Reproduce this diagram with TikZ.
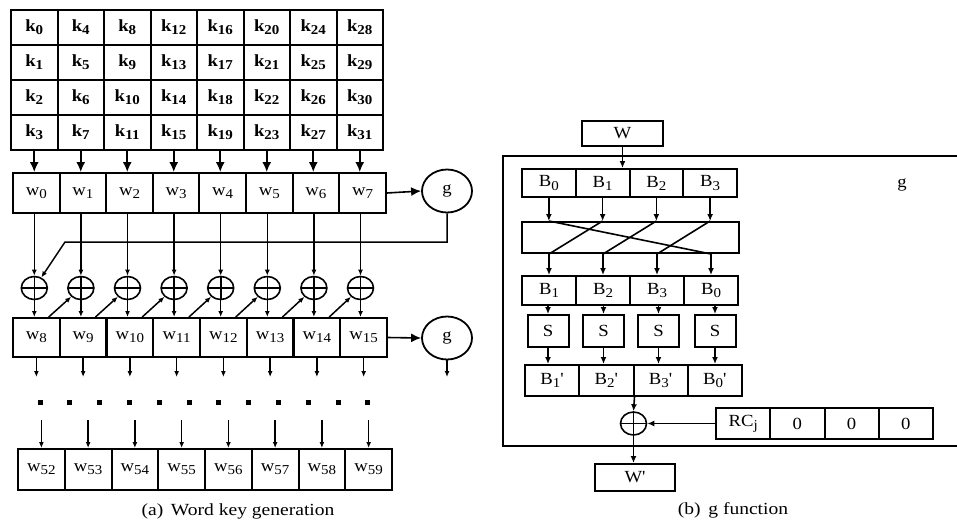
\documentclass[tikz,border=0pt]{standalone}
\usepackage{fontspec}
\setmainfont{Liberation Serif}
\newfontfamily\capfont{Liberation Serif}[FakeStretch=1.15]
\newfontfamily\lblfont{Liberation Serif}[FakeStretch=1.1]
\usetikzlibrary{arrows.meta,shapes.geometric,calc}
\newcommand{\sbs}[1]{\raisebox{-0.4ex}{\scalebox{0.8}{#1}}}
\begin{document}
\begin{tikzpicture}[x=1pt,y=-1pt,
  lbl/.style={font=\lblfont\fontsize{17}{19}\selectfont},
  box/.style={draw,line width=2pt,inner sep=0pt,anchor=center,lbl},
  kcell/.style={box,minimum width=46.5pt,minimum height=35pt},
  wcell/.style={box,minimum width=46.7pt,minimum height=40pt},
  gcirc/.style={draw,ellipse,line width=1.8pt,minimum width=50pt,minimum height=43pt,inner sep=0pt,lbl},
  xor/.style={draw,ellipse,line width=1.6pt,minimum width=26pt,minimum height=23pt,inner sep=0pt,
    path picture={\draw[line width=1.6pt] (path picture bounding box.north) -- (path picture bounding box.south)
      (path picture bounding box.west) -- (path picture bounding box.east);}},
  bigarrow/.style={line width=1.6pt,-{Latex[length=10pt,width=9pt]}},
  smallarrow/.style={line width=1.5pt,-{Latex[length=6pt,width=5pt]}},
  midarrow/.style={line width=1.6pt,-{Latex[length=7pt,width=6pt]}},
  plainline/.style={line width=1.6pt},
  captext/.style={font=\capfont\fontsize{17}{19}\selectfont}
]
\useasboundingbox (0,0) rectangle (957,523);

% ---------- key grid ----------
\foreach \c in {0,...,7}{
  \foreach \r in {0,...,3}{
    \pgfmathtruncatemacro\idx{4*\c+\r}
    \node[kcell] (k\idx) at ({11+46.5*\c+23.25},{10+35*\r+17.5}) {\textbf{k\sbs{\idx}}};
  }
}
% ---------- w0..w7 ----------
\foreach \c in {0,...,7}{
  \node[wcell] (w\c) at ({13+46.6*\c+23.3},193) {w\sbs{\c}};
}
\foreach \c in {0,...,7}{
  \pgfmathtruncatemacro\kb{4*\c+3}
  \draw[bigarrow] (k\kb.south) -- (k\kb.south |- w\c.north);
}
\node[gcirc] (g1) at (447,191) {g};
\draw[bigarrow] (w7.east) -- (g1.west);

% ---------- w8..w15 ----------
\foreach \c in {0,...,7}{
  \pgfmathtruncatemacro\n{\c+8}
  \node[wcell,minimum height=39pt] (w\n) at ({13+46.75*\c+23.375},337.5) {w\sbs{\n}};
}
% ---------- xors ----------
\foreach \c in {0,...,7}{
  \pgfmathtruncatemacro\n{\c+8}
  \node[xor] (x\c) at ({13+46.6*\c+23.3-2},288) {};
  \draw[smallarrow] (x\c.north |- w\c.south) -- (x\c.north);
  \draw[smallarrow] (x\c.south) -- (x\c.south |- w\n.north);
}
\foreach \c in {0,...,6}{
  \pgfmathtruncatemacro\n{\c+8}
  \pgfmathtruncatemacro\m{\c+1}
  \draw[smallarrow] ($(w\n.north east)+(-12,0)$) -- (x\m);
}
\coordinate (gb) at (65,242);
\draw[smallarrow] (g1.south) |- (gb) -- (x0);

\node[gcirc] (g2) at (447,338) {g};
\draw[bigarrow] (w15.east) -- (g2.west);
\coordinate (g2e) at (447,377);
\draw[smallarrow] (g2.south) -- (g2e);

\foreach \c in {0,...,7}{
  \pgfmathtruncatemacro\n{\c+8}
  \coordinate (e\n) at ($(w\n.south)+(0,19)$);
  \draw[smallarrow] (w\n.south) -- (e\n);
}
% dots
\foreach \i in {0,...,11}{
  \fill ({40+29.8*\i-2.5},399.5) rectangle +(5,5);
}
% ---------- w52..w59 ----------
\foreach \c in {0,...,7}{
  \pgfmathtruncatemacro\n{\c+52}
  \node[wcell,minimum width=46.75pt,minimum height=41pt] (w\n) at ({18+46.75*\c+23.375},469.5) {w\sbs{\n}};
  \coordinate (f\n) at ($(w\n.north)+(0,-28)$);
  \draw[smallarrow] (f\n) -- (w\n.north);
}
\node[captext] (capa) at (238,511) {(a)\, Word key generation};

% ================= g function =================
\node[box,minimum width=81pt,minimum height=25pt] (W) at (622.5,133.5) {W};
\draw[line width=2pt] (962,156) -- (503,156) -- (503,446) -- (962,446);
\node[lbl] (glab) at (902,185) {g};

\foreach \i/\t in {0/0,1/1,2/2,3/3}{
  \node[box,minimum width=53.75pt,minimum height=28pt] (b\i) at ({522+53.75*(\i+0.5)},183) {B\sbs{\t}};
}
\draw[midarrow] (W.south) -- (W.south |- b1.north);
\node[box,minimum width=217pt,minimum height=31pt] (P) at (630.5,237.5) {};
\foreach \i in {0,...,3}{
  \draw[midarrow] (b\i.south) -- (b\i.south |- P.north);
}
\foreach \i/\t in {0/1,1/2,2/3,3/0}{
  \node[box,minimum width=54pt,minimum height=29pt] (c\i) at ({522+54*(\i+0.5)},290.5) {B\sbs{\t}};
}
\foreach \i in {0,...,3}{
  \draw[midarrow] (c\i.north |- P.south) -- (c\i.north);
}
\draw[plainline] (b0.south |- P.north) -- (c3.north |- P.south);
\draw[plainline] (b1.south |- P.north) -- (c0.north |- P.south);
\draw[plainline] (b2.south |- P.north) -- (c1.north |- P.south);
\draw[plainline] (b3.south |- P.north) -- (c2.north |- P.south);

\foreach \i/\x in {0/548,1/603.5,2/658.5,3/715}{
  \node[box,minimum width=41pt,minimum height=32pt] (s\i) at (\x,331) {S};
  \draw[midarrow] (s\i.north |- c\i.south) -- (s\i.north);
}
\foreach \i/\t in {0/1,1/2,2/3,3/0}{
  \node[box,minimum width=54.25pt,minimum height=31pt] (d\i) at ({525+54.25*(\i+0.5)},380.5) {B\sbs{\t}'};
}
\foreach \i in {0,...,3}{
  \draw[midarrow] (s\i.south) -- (s\i.south |- d\i.north);
}
\node[xor] (xr) at (633.5,423.5) {};
\draw[midarrow] (d1.south east) -- (xr.north);
\foreach \i/\t in {0/{RC\sbs{j}},1/0,2/0,3/0}{
  \node[box,minimum width=54.25pt,minimum height=31pt] (r\i) at ({716+54.25*(\i+0.5)},423.5) {\t};
}
\draw[midarrow] (r0.west) -- (xr.east);
\node[box,minimum width=80pt,minimum height=27pt] (Wp) at (635,477.5) {W'};
\draw[midarrow] (xr.south) -- (xr.south |- Wp.north);
\node[captext] (capb) at (733,510) {(b)\, g function};
\end{tikzpicture}
\end{document}
